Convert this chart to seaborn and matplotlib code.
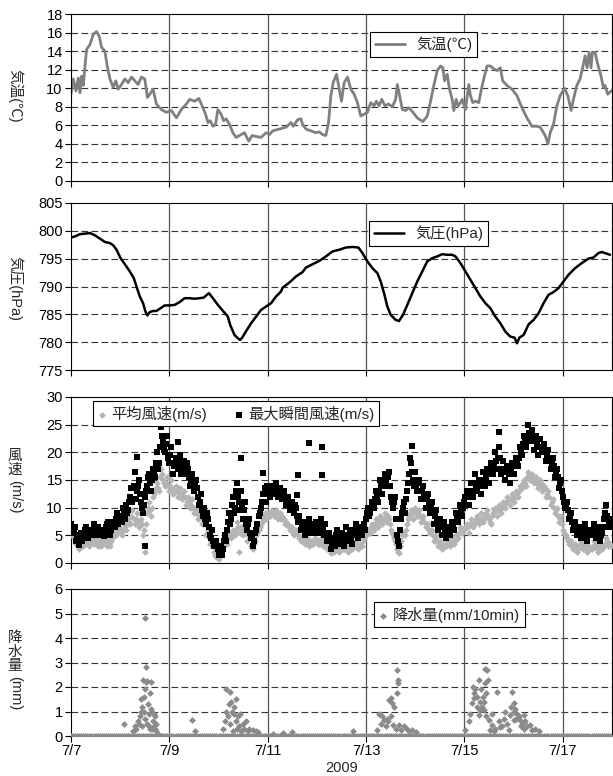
import numpy as np
import pandas as pd
import matplotlib
matplotlib.use('Agg')
import matplotlib.pyplot as plt
import seaborn as sns

# ---- data (time = days after 2009-07-07 00:00) ----
temp_t = [0.000, 0.047, 0.101, 0.149, 0.182, 0.216, 0.250, 0.284, 0.318, 0.385, 0.453, 0.520, 0.574, 0.622,
          0.689, 0.736, 0.791, 0.858, 0.912, 0.959, 1.027, 1.095, 1.162, 1.230, 1.297, 1.365, 1.432, 1.500,
          1.554, 1.601, 1.669, 1.736, 1.838, 1.939, 2.041, 2.142, 2.243, 2.345, 2.412, 2.514, 2.601, 2.682,
          2.736, 2.784, 2.831, 2.885, 2.939, 2.986, 3.054, 3.101, 3.155, 3.223, 3.291, 3.358, 3.426, 3.527,
          3.615, 3.682, 3.764, 3.865, 3.966, 4.034, 4.101, 4.236, 4.372, 4.473, 4.520, 4.608, 4.676, 4.709,
          4.777, 4.878, 4.980, 5.047, 5.115, 5.182, 5.236, 5.284, 5.331, 5.399, 5.453, 5.500, 5.554, 5.622,
          5.689, 5.757, 5.824, 5.892, 5.959, 6.027, 6.095, 6.162, 6.209, 6.264, 6.318, 6.385, 6.453, 6.534,
          6.601, 6.635, 6.682, 6.736, 6.804, 6.872, 6.953, 7.041, 7.155, 7.243, 7.311, 7.378, 7.446, 7.514,
          7.561, 7.595, 7.649, 7.696, 7.750, 7.784, 7.831, 7.872, 7.919, 7.953, 8.020, 8.088, 8.122, 8.169,
          8.223, 8.291, 8.345, 8.392, 8.459, 8.527, 8.595, 8.662, 8.730, 8.777, 8.865, 8.966, 9.068, 9.169,
          9.270, 9.372, 9.473, 9.541, 9.642, 9.696, 9.743, 9.811, 9.878, 9.946, 10.034, 10.101, 10.169,
          10.216, 10.284, 10.351, 10.419, 10.453, 10.493, 10.534, 10.574, 10.601, 10.655, 10.709, 10.777,
          10.824, 10.858, 10.912, 10.980]
temp_v = [9.35, 11.0, 9.7, 11.1, 9.5, 11.3, 10.3, 12.4, 14.2, 14.7, 15.8, 16.1, 15.6, 14.4,
          14.0, 12.4, 11.0, 10.1, 10.8, 9.9, 10.4, 11.0, 10.6, 11.2, 10.8, 10.4, 11.2, 11.0,
          9.0, 9.35, 9.9, 8.3, 7.7, 7.4, 7.6, 6.8, 7.7, 8.3, 8.8, 8.6, 8.9, 7.9,
          7.2, 6.3, 6.5, 5.9, 6.1, 7.7, 7.2, 6.5, 6.7, 6.1, 5.2, 4.7, 4.9, 5.2,
          4.3, 4.9, 4.8, 4.7, 5.2, 5.0, 5.4, 5.6, 5.8, 6.3, 5.9, 6.6, 6.7, 6.1,
          5.6, 5.4, 5.2, 5.3, 5.0, 4.9, 6.3, 9.2, 10.6, 11.5, 9.9, 8.6, 10.6, 11.2,
          9.9, 9.35, 8.45, 7.0, 7.2, 7.4, 8.45, 8.1, 8.6, 8.1, 8.8, 8.1, 8.3, 8.0,
          8.8, 10.4, 9.2, 7.7, 7.6, 7.9, 7.4, 6.8, 6.4, 7.0, 8.6, 10.3, 11.9, 12.4,
          12.2, 10.8, 11.5, 9.9, 8.8, 7.6, 8.8, 8.1, 8.45, 8.8, 7.7, 10.4, 9.2, 8.45,
          8.6, 8.45, 9.9, 11.0, 12.4, 12.4, 12.1, 11.9, 12.2, 10.8, 10.3, 9.9, 9.2, 7.9,
          6.8, 5.9, 5.9, 5.8, 4.9, 4.0, 5.2, 6.1, 8.1, 9.2, 10.0, 9.2, 7.6,
          8.8, 10.3, 11.0, 12.6, 13.5, 12.2, 13.85, 12.2, 13.85, 13.85, 12.6, 11.3,
          10.1, 10.3, 9.35, 9.7]

pres_t = [0.000, 0.081, 0.182, 0.284, 0.385, 0.486, 0.588, 0.689, 0.791, 0.858, 0.926, 1.007, 1.095, 1.196,
          1.277, 1.331, 1.399, 1.466, 1.514, 1.554, 1.601, 1.669, 1.736, 1.804, 1.905, 2.007, 2.108, 2.209,
          2.311, 2.412, 2.514, 2.615, 2.696, 2.804, 2.885, 2.986, 3.101, 3.189, 3.236, 3.324, 3.392, 3.439,
          3.480, 3.561, 3.662, 3.764, 3.865, 3.966, 4.068, 4.169, 4.270, 4.304, 4.439, 4.574, 4.709, 4.777,
          4.912, 5.047, 5.182, 5.318, 5.453, 5.588, 5.723, 5.845, 5.926, 6.027, 6.128, 6.230, 6.297, 6.365,
          6.432, 6.500, 6.601, 6.669, 6.750, 6.838, 6.939, 7.041, 7.142, 7.243, 7.345, 7.446, 7.547, 7.649,
          7.750, 7.818, 7.919, 8.020, 8.122, 8.223, 8.324, 8.426, 8.527, 8.628, 8.730, 8.831, 8.932, 9.020,
          9.068, 9.115, 9.203, 9.304, 9.405, 9.507, 9.608, 9.709, 9.811, 9.912, 10.014, 10.115, 10.250,
          10.385, 10.520, 10.622, 10.723, 10.791, 10.858, 10.959]
pres_v = [798.8, 799.0, 799.4, 799.5, 799.6, 799.2, 798.6, 798.0, 797.8, 797.4, 796.6, 795.1, 794.0, 792.7,
          791.5, 790.0, 788.2, 787.0, 785.5, 784.8, 785.4, 785.6, 785.6, 786.0, 786.6, 786.6, 786.7, 787.2,
          787.9, 787.9, 787.8, 787.9, 788.0, 788.8, 787.9, 786.7, 785.5, 784.6, 783.1, 781.3, 780.7, 780.4,
          780.8, 782.0, 783.4, 784.6, 785.8, 786.4, 787.0, 788.2, 789.1, 789.8, 790.7, 791.8, 792.6, 793.4,
          794.0, 794.6, 795.4, 796.3, 796.6, 797.0, 797.1, 797.0, 796.0, 794.5, 793.3, 792.4, 790.9, 788.8,
          786.4, 784.9, 784.0, 783.8, 784.9, 786.7, 788.8, 790.9, 792.7, 794.5, 795.1, 795.4, 795.8, 795.7,
          795.7, 795.4, 794.2, 792.7, 791.2, 789.7, 788.2, 787.0, 786.1, 784.6, 783.4, 781.9, 781.0, 780.8,
          779.8, 780.8, 781.3, 783.2, 784.0, 785.2, 787.0, 788.5, 789.0, 789.7, 790.9, 792.1, 793.3,
          794.2, 795.0, 795.2, 796.0, 796.2, 796.0, 795.7]

# wind readings on the hour, one list per day (7/7 ... 7/17)
gust_by_day = [
    [7, 6, 6.5, 5, 3.2, 5.5, 4.5, 6, 5, 5.5, 6, 7, 5.5, 6.5, 5, 6, 4.8, 6.5, 7.5, 5, 6.5, 7.5, 8, 7],
    [8.5, 7.5, 9, 10.5, 9.5, 12, 11, 16.5, 13, 15, 11, 9, 12, 14, 16, 13, 17, 15.5, 20, 18, 24.5, 22, 20, 23],
    [18, 21, 16, 19, 17, 19.5, 17, 18.5, 16, 17, 14, 16, 13, 15, 12, 11, 9.5, 10, 7, 8, 5, 6, 3, 4],
    [1.5, 3, 2.5, 5, 6, 9, 8, 12, 10, 14.5, 11, 13, 8, 11, 6, 8, 4.5, 3, 5.5, 7, 9, 11, 12.5, 11],
    [13.5, 12, 14, 12.5, 14.5, 12, 13.5, 11.5, 13, 10.5, 12, 9.5, 11, 9, 10, 7.5, 6, 7.5, 5, 6.5, 8, 5.5, 7, 6],
    [7.5, 5.5, 8, 6, 7, 4, 5.5, 2.5, 4.5, 3, 6, 3.5, 5.5, 3, 6.5, 4, 6, 3.5, 5, 7, 4.5, 6.5, 5, 7],
    [8, 10, 9, 11, 10, 13, 11, 15, 12.5, 16, 14, 16.5, 12, 10, 12, 5, 3, 8, 10, 9, 13, 16, 18, 15],
    [16.5, 13, 15, 11.5, 14, 10, 12.5, 9, 11, 7, 9.5, 6, 8, 5, 7.5, 4.5, 6.5, 5, 7.5, 6, 9, 7.5, 10.5, 8.5],
    [11, 13, 10.5, 14.5, 12, 16, 13, 15, 12.5, 16.5, 14, 17, 14.5, 18, 16, 20, 17, 21, 16, 18.5, 15, 17.5, 14.5, 18],
    [16, 19, 17.5, 21, 19.5, 23, 21, 25, 22, 24, 20.5, 23, 19.5, 22.5, 20, 21.5, 18.5, 20.5, 17, 19, 15.5, 17, 13.5, 15],
    [12, 10, 11, 8, 9, 6, 7.5, 5, 6.5, 4.5, 6, 7, 4, 6, 5, 7, 4.5, 6.5, 4, 5.5, 8, 10.5, 6.5, 8],
]
# wind readings on the half hour
gust_half_by_day = [
    [6.5, 5.5, 4, 4.5, 5, 4, 5.5, 6.5, 4.5, 6, 5, 6, 6.5, 5, 6, 5.5, 5.5, 7, 6, 6, 7, 6.5, 9, 7.5],
    [8, 10, 8, 9, 11, 13.5, 14, 11.5, 14, 12.5, 10, 10.5, 13, 15.5, 14.5, 15, 16.5, 18, 17, 21, 23, 20.5, 21.5, 19],
    [19.5, 18, 17.5, 18, 18.5, 16, 18, 17, 18, 15.5, 15, 14.5, 14, 13.5, 10.5, 12.5, 8.5, 8, 9, 6.5, 4.5, 4, 3.5, 2.5],
    [2, 1.5, 4, 4, 7.5, 7, 10.5, 9, 13, 12, 9.5, 10, 9.5, 7, 7, 5.5, 5, 4, 6, 8.5, 10, 12.5, 13.5, 14],
    [12.5, 13, 13.5, 14, 13, 13.5, 12.5, 12, 11.5, 11.5, 10.5, 10, 10, 10.5, 8.5, 8.5, 6.5, 6.5, 6, 7, 6.5, 7, 5.5, 7.5],
    [6.5, 7, 6.5, 5, 5.5, 5, 4, 3.5, 3.5, 5, 4.5, 5, 4, 4.5, 5, 5, 4.5, 5.5, 6, 5.5, 6, 5.5, 6, 6],
    [9, 8.5, 10, 10.5, 11.5, 12, 13, 14, 14, 15, 15.5, 14, 11, 11, 8, 4, 6, 9, 11, 11.5, 14.5, 19, 16.5, 14],
    [14, 14.5, 13, 13, 12, 11.5, 10.5, 10, 9, 8.5, 7.5, 7, 6.5, 6.5, 6, 5.5, 5.5, 6, 6.5, 7.5, 8, 9, 9.5, 10],
    [12, 12, 13, 13, 14.5, 14, 14, 14, 15, 15, 15.5, 16, 16, 17, 18, 18.5, 19, 19, 17, 17, 16.5, 16, 16.5, 17.5],
    [17.5, 18.5, 19, 20, 21.5, 22, 23, 23.5, 23.5, 22.5, 22, 21.5, 21, 21, 21, 20, 19.5, 19, 18, 17.5, 16.5, 15.5, 14.5, 13],
    [11, 10.5, 9.5, 8.5, 7.5, 7, 6, 6, 5.5, 5.5, 5, 5.5, 5, 5.5, 6, 5.5, 5.5, 5, 5, 6.5, 9, 8.5, 7.5, 6.5],
]
avg_by_day = [
    [5.5, 5, 4, 3.5, 2.5, 4, 3, 3.5, 4.5, 3, 4, 3.5, 4.5, 3, 4, 3.5, 4.5, 3.5, 4, 3, 4.5, 5.5, 5, 6],
    [6, 5, 7, 6, 8, 7, 9.5, 7, 9, 6.5, 8, 5, 2, 9, 11, 8.5, 12, 13, 14.5, 13, 17, 15, 14, 15.5],
    [13, 15, 12.5, 14, 12, 13.5, 11.5, 13, 10.5, 12, 10, 11.5, 9, 10, 8, 9.5, 7, 8, 5, 6, 3.5, 4, 2, 1],
    [0.8, 2, 3, 4.5, 3.5, 5.5, 4.5, 6, 5, 7.5, 2, 6.5, 5, 7, 4, 5.5, 3, 2.5, 4, 5.5, 6.5, 7.5, 8.5, 8],
    [9, 8.5, 9.5, 8.5, 9.5, 8, 9, 8.5, 8, 7.5, 7, 6, 6.5, 5, 6, 5, 4, 4.5, 3.5, 4.5, 3, 4, 3.5, 4.5],
    [4, 3.5, 4.5, 3, 4, 2.5, 3.5, 1.8, 3, 2.5, 3.5, 2, 3, 2.5, 3.5, 2, 3, 2.5, 3.5, 4, 2.5, 3.5, 3, 4.5],
    [5, 6, 5.5, 7, 6, 8, 6.5, 8.5, 7, 9, 7.5, 8, 6, 5, 4, 2.5, 1.8, 4, 5.5, 5, 7, 8.5, 9.5, 8],
    [10, 8.5, 9.5, 7.5, 8.5, 6.5, 7, 5.5, 6, 4, 5, 3, 4, 2.5, 3.5, 3, 4, 3, 4.5, 3.5, 5, 4.5, 6.5, 5.5],
    [6, 7, 5.5, 8, 6.5, 7.5, 8.5, 7, 9, 7.5, 8.5, 9.5, 8, 7, 9, 10, 8.5, 10.5, 9, 11, 10, 12, 10.5, 12.5],
    [11, 13, 12, 14, 13.5, 15, 14, 16.5, 15, 16, 14.5, 15.5, 13.5, 15, 13, 14, 12, 13, 10.5, 11.5, 9, 10, 7.5, 8.5],
    [6, 5, 4.5, 3.5, 4, 2.5, 3.5, 2, 3, 4, 2.5, 3.5, 2, 3, 2.5, 4, 3, 2, 3.5, 2.5, 3, 4.5, 3, 3.5],
]
avg_half_by_day = [
    [5, 4.5, 3.5, 3, 3.5, 3.5, 4, 4, 3.5, 3.5, 4.5, 4, 3.5, 3.5, 3, 4, 4, 3, 3.5, 4, 5, 5, 6.5, 6.5],
    [5.5, 6, 6.5, 7, 7.5, 8.5, 8, 8, 7.5, 7.5, 7, 6, 7, 10, 9.5, 10, 12.5, 13.5, 13.5, 15.5, 16, 14.5, 14.5, 14],
    [14, 13.5, 13, 13, 12.5, 12.5, 12, 12, 11, 11, 10.5, 10, 9.5, 9, 8.5, 8.5, 7.5, 7, 5.5, 4.5, 4, 3, 1.5, 1.5],
    [1.5, 2.5, 3.5, 4, 4.5, 5, 5, 5.5, 6, 6.5, 5.5, 6, 6, 5.5, 5, 4.5, 3.5, 3.5, 5, 6, 7, 8, 9, 9],
    [8.5, 9, 9, 9, 8.5, 8.5, 8, 8, 7, 7, 6.5, 6.5, 5.5, 5.5, 5.5, 4.5, 4.5, 4, 4, 4, 3.5, 3.5, 4, 4],
    [3.5, 4, 3.5, 3.5, 3, 3, 2.5, 2.5, 2, 3, 3, 2.5, 2.5, 3, 3, 2.5, 2.5, 3, 3, 3, 3, 3, 4, 5],
    [5.5, 5.5, 6.5, 6.5, 7, 7.5, 7.5, 8, 8, 8.5, 8.5, 7, 5.5, 4.5, 3.5, 2, 3, 5, 5, 6, 8, 9, 9, 9.5],
    [9, 9, 8.5, 8, 7.5, 7, 6, 6, 5, 4.5, 4, 3.5, 3, 3, 3, 3.5, 3.5, 3.5, 4, 4, 5, 5.5, 6, 6],
    [6.5, 6.5, 7, 7, 7, 8, 8, 8, 8, 8, 9, 8.5, 7.5, 8.5, 9.5, 9.5, 9.5, 10, 10, 10.5, 11, 11.5, 11.5, 12],
    [12, 12.5, 13, 13.5, 14.5, 14.5, 15.5, 16, 15.5, 15, 15, 14.5, 14, 14.5, 13.5, 13.5, 12.5, 12, 11, 10, 9.5, 8.5, 8, 7],
    [5.5, 5, 4, 4, 3, 3, 3, 2.5, 3.5, 3.5, 3, 3, 2.5, 2.5, 3, 3.5, 2.5, 2.5, 3, 3, 3.5, 4, 3.5, 3],
]
# isolated gusts away from the main band
gust_extra_t = [1.34, 1.50, 2.18, 3.46, 3.90, 4.59, 4.61, 4.84, 5.10, 5.11, 6.94, 8.70]
gust_extra_v = [19.2, 3.1, 21.9, 19.0, 16.3, 12.3, 15.9, 21.7, 15.9, 21.0, 21.1, 23.7]

# non-zero 10-min rainfall readings (every other hour reads 0 mm)
rain_t = [1.074, 1.264, 1.297, 1.331, 1.365, 1.385, 1.399, 1.419, 1.432, 1.446, 1.453, 1.466, 1.480, 1.486,
          1.500, 1.507, 1.514, 1.520, 1.534, 1.547, 1.554, 1.568, 1.581, 1.588, 1.601, 1.615, 1.628, 1.635,
          1.649, 1.655, 1.669, 1.682, 1.689, 1.703, 1.709, 1.723, 1.736, 1.770, 2.466, 2.514,
          3.088, 3.122, 3.142, 3.155, 3.189, 3.209, 3.223, 3.243, 3.257, 3.277, 3.291, 3.311, 3.324, 3.345,
          3.358, 3.372, 3.392, 3.426, 3.446, 3.459, 3.493, 3.527, 3.561, 3.595, 3.628, 3.696, 3.764, 3.797,
          4.101, 4.304, 4.493, 5.736,
          6.230, 6.264, 6.297, 6.331, 6.365, 6.399, 6.432, 6.453, 6.466, 6.500, 6.514, 6.534, 6.547, 6.568,
          6.601, 6.622, 6.635, 6.649, 6.655, 6.669, 6.703, 6.770, 6.838, 6.872, 6.939, 7.007,
          8.020, 8.088, 8.122, 8.155, 8.169, 8.189, 8.203, 8.223, 8.250, 8.257, 8.291, 8.304, 8.310, 8.324,
          8.340, 8.358, 8.370, 8.392, 8.400, 8.412, 8.426, 8.440, 8.446, 8.459, 8.473, 8.493, 8.527, 8.550,
          8.561, 8.600, 8.628, 8.662, 8.696, 8.730, 8.764, 8.797, 8.831, 8.865, 8.899, 8.932, 8.950, 8.966,
          9.000, 9.005, 9.014, 9.034, 9.050, 9.068, 9.101, 9.135, 9.150, 9.169, 9.203, 9.220, 9.236, 9.270,
          9.338, 9.372, 9.439, 9.507]
rain_v = [0.5, 0.2, 0.4, 0.3, 0.6, 0.5, 0.8, 1.0, 1.5, 0.4, 1.2, 2.3, 1.0, 1.6,
          1.9, 0.7, 4.8, 2.8, 2.2, 0.5, 2.25, 1.3, 0.4, 0.9, 1.75, 0.3, 1.1, 2.2,
          0.3, 1.0, 0.6, 0.4, 0.9, 0.8, 0.3, 0.2, 0.5, 0.1, 0.65, 0.2,
          0.3, 0.6, 1.0, 1.9, 0.8, 1.3, 1.8, 0.5, 1.4, 1.0, 0.2, 0.9, 1.2, 0.6,
          1.5, 0.3, 0.8, 0.4, 0.9, 0.2, 0.5, 0.3, 0.6, 0.2, 0.3, 0.25, 0.2, 0.15,
          0.1, 0.12, 0.15, 0.2,
          0.25, 0.9, 0.5, 0.8, 0.65, 0.4, 0.7, 0.6, 1.45, 1.55, 0.8, 1.35, 0.45, 1.2,
          0.3, 1.75, 2.7, 2.3, 2.15, 0.45, 0.25, 0.4, 0.3, 0.2, 0.25, 0.15,
          0.25, 0.6, 0.9, 1.35, 2.0, 1.75, 1.55, 1.9, 1.2, 1.6, 2.3, 0.85, 1.05, 1.4,
          1.9, 1.2, 1.6, 1.05, 1.4, 2.15, 2.75, 0.8, 1.75, 2.7, 2.3, 0.65, 0.25, 0.9,
          0.45, 0.2, 0.3, 1.8, 0.6, 0.35, 0.4, 0.7, 1.0, 0.5, 0.25, 0.85, 1.2, 1.8,
          1.35, 1.0, 0.65, 1.1, 0.7, 0.9, 0.8, 0.65, 0.4, 0.5, 0.85, 0.3, 0.6, 0.4,
          0.45, 0.25, 0.3, 0.2]

tick_days = [0, 2, 4, 6, 8, 10]
tick_labels = ['7/7', '7/9', '7/11', '7/13', '7/15', '7/17']

# ---- build frames ----
start = pd.Timestamp('2009-07-07')


def to_time(days):
    return start + pd.to_timedelta(np.asarray(days, dtype=float), unit='D')


hours = np.arange(len(gust_by_day) * 24) / 24.0
half_hours = hours + 1 / 48.0
wind_t = np.concatenate([hours, half_hours])
temp = pd.DataFrame({'time': to_time(temp_t), 'v': temp_v})
pres = pd.DataFrame({'time': to_time(pres_t), 'v': pres_v})
avg = pd.DataFrame({'time': to_time(wind_t),
                    'v': np.concatenate(avg_by_day + avg_half_by_day)})
gust = pd.DataFrame({'time': to_time(np.concatenate([wind_t, gust_extra_t])),
                     'v': np.concatenate(gust_by_day + gust_half_by_day + [gust_extra_v])})
rain_zero = [0.0] * len(hours)
rain = pd.DataFrame({'time': to_time(np.concatenate([hours, rain_t])),
                     'v': np.concatenate([rain_zero, rain_v])})

# ---- style ----
sns.set_style('ticks')
plt.rcParams['font.family'] = ['Liberation Sans', 'Noto Sans CJK JP', 'DejaVu Sans']
plt.rcParams['font.size'] = 10.5

fig = plt.figure(figsize=(6.13, 7.76), dpi=100)
W, H = 613.0, 776.0
left, right = 71, 612
# (top, bottom) of each panel in pixels
boxes = [(14, 181), (203, 370), (397, 563), (589, 736)]
axs = [fig.add_axes([left / W, 1 - b / H, (right - left) / W, (b - t) / H]) for t, b in boxes]

sns.lineplot(data=temp, x='time', y='v', ax=axs[0], color='#808080', lw=2.0, label='気温(℃)', estimator=None)
sns.lineplot(data=pres, x='time', y='v', ax=axs[1], color='black', lw=1.8, label='気圧(hPa)', estimator=None)
sns.scatterplot(data=avg, x='time', y='v', ax=axs[2], color='#b4b4b4', marker='D', s=12,
                linewidth=0, label='平均風速(m/s)', zorder=3)
sns.scatterplot(data=gust, x='time', y='v', ax=axs[2], color='black', marker='s', s=16,
                linewidth=0, label='最大瞬間風速(m/s)', zorder=4)
sns.scatterplot(data=rain, x='time', y='v', ax=axs[3], color='#8a8a8a', marker='D', s=12,
                linewidth=0, label='降水量(mm/10min)', zorder=3)

ylims = [(0, 18), (775, 805), (0, 30), (0, 6)]
ysteps = [2, 5, 5, 1]
xt = [start + pd.Timedelta(days=d) for d in tick_days]
for ax, (lo, hi), st in zip(axs, ylims, ysteps):
    ax.set_xlim(start, start + pd.Timedelta(days=11))
    ax.set_ylim(lo, hi)
    ax.set_yticks(np.arange(lo, hi + st / 2, st))
    ax.set_xticks(xt)
    ax.set_xticklabels([])
    ax.set_xlabel('')
    ax.set_ylabel('')
    ax.tick_params(direction='out', length=4, width=0.8, labelsize=10.5, pad=2, colors='black')
    for sp in ax.spines.values():
        sp.set_visible(True)
        sp.set_color('black')
        sp.set_linewidth(0.8)
    for yv in np.arange(lo + st, hi, st):
        ax.axhline(yv, color='#333333', lw=0.8, ls=(0, (6, 3)), zorder=1)
    for x in xt[1:]:
        ax.axvline(x, color='#555555', lw=0.9, zorder=1)

axs[3].set_xticklabels(tick_labels)
axs[3].set_xlabel('2009', fontsize=10.5, labelpad=2)

leg_kw = dict(frameon=True, fancybox=False, edgecolor='black', framealpha=1, fontsize=11,
              borderaxespad=0, loc='upper left', borderpad=0.3)
l0 = axs[0].legend(bbox_to_anchor=(0.553, 0.892), handlelength=2.0, handletextpad=0.7, **leg_kw)
l1 = axs[1].legend(bbox_to_anchor=(0.551, 0.892), handlelength=2.0, handletextpad=0.7, **leg_kw)
l2 = axs[2].legend(bbox_to_anchor=(0.041, 0.976), ncol=2, handlelength=0.6, handletextpad=0.3,
                   columnspacing=1.8, markerscale=1.0, **leg_kw)
l3 = axs[3].legend(bbox_to_anchor=(0.560, 0.912), handlelength=0.6, handletextpad=0.35, **leg_kw)
for lg in (l0, l1, l2, l3):
    lg.get_frame().set_linewidth(0.8)


# y-axis titles
def fx(px):
    return px / W


def fy(py):
    return 1 - py / H


fig.text(fx(15), fy(96), '気温(℃)', rotation=270, ha='center', va='center', fontsize=10.5)
fig.text(fx(15), fy(288), '気圧(hPa)', rotation=270, ha='center', va='center', fontsize=10.5)
fig.text(fx(15), fy(463), '風\n速', ha='center', va='center', fontsize=10.5, linespacing=1.0)
fig.text(fx(15), fy(497), '(m/s)', rotation=270, ha='center', va='center', fontsize=10.5)
fig.text(fx(15), fy(652), '降\n水\n量', ha='center', va='center', fontsize=10.5, linespacing=1.0)
fig.text(fx(15), fy(693), '(mm)', rotation=270, ha='center', va='center', fontsize=10.5)

fig.savefig('out.png', dpi=100)
